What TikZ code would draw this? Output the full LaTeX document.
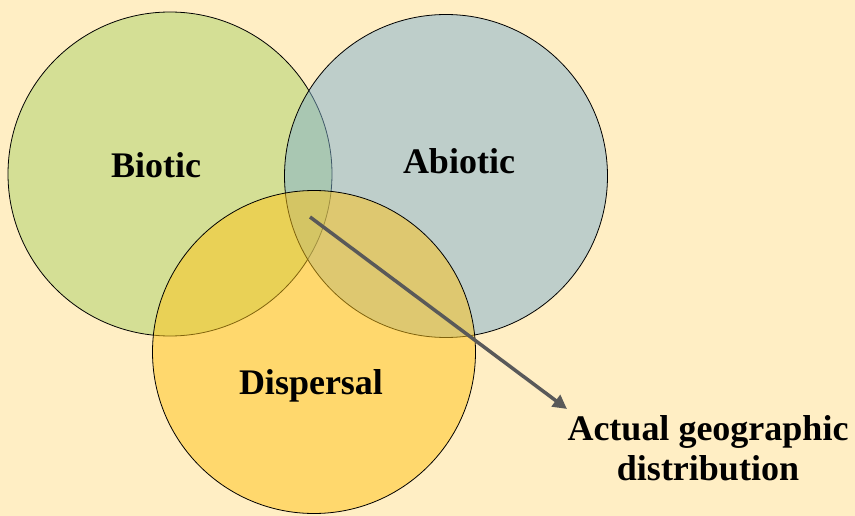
\documentclass[tikz,border=0pt]{standalone}
\usepackage{fontspec}
\setmainfont{Liberation Serif}
\usetikzlibrary{arrows.meta}
\definecolor{bg}{RGB}{255,238,196}
\definecolor{biocol}{RGB}{171,210,104}
\definecolor{abiocol}{RGB}{127,176,208}
\definecolor{dispcol}{RGB}{255,196,24}
\definecolor{arrowgray}{RGB}{89,89,89}
\begin{document}
\begin{tikzpicture}[x=1pt,y=-1pt,
  venn/.style={circle, draw=black, line width=0.8pt, fill opacity=0.5, text opacity=1, minimum size=#1, inner sep=0pt},
  lbl/.style={font=\bfseries\fontsize{36}{40}\selectfont, text=black, inner sep=0pt},
  pointer/.style={draw=arrowgray, line width=3.5pt, -{Triangle[length=14pt,width=14pt]}}]
\fill[bg] (0,0) rectangle (855,516);
\useasboundingbox (0,0) rectangle (855,516);
\node[venn=324pt, fill=biocol] (bio) at (170,174) {};
\node[venn=323pt, fill=abiocol] (abio) at (446,176) {};
\node[venn=323pt, fill=dispcol] (disp) at (314,352) {};
\node[lbl] (biot) at (156,165) {Biotic};
\node[lbl] (abiot) at (459,161) {Abiotic};
\node[lbl] (dispt) at (311,386) {Dispersal};
\node[lbl, align=center] (actual) at (708,448) {Actual geographic\\distribution};
\coordinate (core) at (310,217);
\coordinate (tip) at (567,409);
\draw[pointer] (core) -- (tip);
\end{tikzpicture}
\end{document}
